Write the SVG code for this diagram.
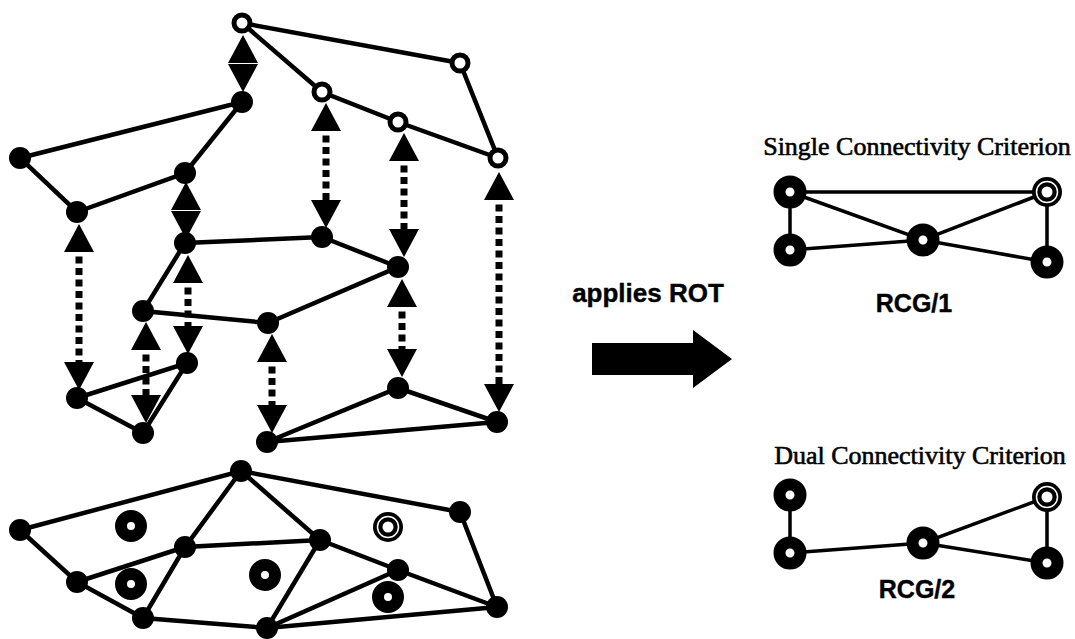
<svg xmlns="http://www.w3.org/2000/svg" width="1075" height="639" viewBox="0 0 1075 639">
<defs>
<style>
.e{stroke:#000;stroke-width:4.5;fill:none;stroke-linecap:round}
.e2{stroke:#000;stroke-width:3.5;fill:none}
.da{stroke:#000;stroke-width:7;stroke-dasharray:7 4.5;stroke-dashoffset:7;fill:none;marker-start:url(#tri);marker-end:url(#tri)}
.dot{fill:#000}
.ring{fill:#fff;stroke:#000;stroke-width:5}
.big{fill:#fff;stroke:#000;stroke-width:12}
.serif{font-family:"Liberation Serif","Times New Roman",serif;font-size:26px;fill:#000;stroke:#000;stroke-width:0.6}
.sans{font-family:"Liberation Sans",Arial,sans-serif;font-weight:bold;fill:#000;stroke:#000;stroke-width:0.4}
</style>
<marker id="tri" markerUnits="userSpaceOnUse" markerWidth="30" markerHeight="30" refX="0" refY="15" orient="auto-start-reverse" overflow="visible">
<path d="M0,0 L28,15 L0,30 Z" fill="#000"/>
</marker>
<g id="dring">
<circle r="15" fill="#000"/>
<circle r="10.5" fill="none" stroke="#fff" stroke-width="1.5"/>
<circle r="5.5" fill="#fff"/>
</g>
</defs>
<rect width="1075" height="639" fill="#fff"/>

<g id="connectors">
<path class="e" d="M242,23 L460,63 M242,23 L322,92 L398,122 L498,158 L460,63"/>
<path class="e" d="M242,102 L20,158 L77,212 L185,173 L242,102"/>
<path class="e" d="M322,237 L185,243 L143,311 L268,323 L398,267 L322,237"/>
<path class="e" d="M77,398 L187,363 L143,433 Z"/>
<path class="e" d="M267,442 L398,388 L497,422 Z"/>
<line class="da" x1="243" y1="63" x2="243" y2="64"/>
<line class="da" x1="79" y1="252" x2="79" y2="362"/>
<line class="da" x1="186" y1="210" x2="186" y2="211"/>
<line class="da" x1="188" y1="283" x2="188" y2="326"/>
<line class="da" x1="146" y1="350" x2="146" y2="395"/>
<line class="da" x1="326" y1="131" x2="326" y2="200"/>
<line class="da" x1="404" y1="161" x2="404" y2="229"/>
<line class="da" x1="499" y1="200" x2="499" y2="384"/>
<line class="da" x1="402" y1="307" x2="402" y2="349"/>
<line class="da" x1="272" y1="362" x2="272" y2="405"/>
<path class="e" d="M20,530 L241,471 L460,512 L497,607 L267,628 L143,618 L77,582 L20,530"/>
<path class="e" d="M77,582 L185,547 L241,471 L320,540 L185,547 L143,618"/>
<path class="e" d="M320,540 L398,570 L497,607 M320,540 L267,628 L398,570"/>
<path class="e2" d="M790,192 L1047,192 M790,192 L923,240 L1047,192 M790,250 L923,240 L1047,262"/>
<path class="e2" d="M790,192 L790,250 M1047,192 L1047,262" stroke-width="2.5"/>
<path class="e2" d="M790,553 L923,543 L1047,497 M923,543 L1047,563"/>
<path class="e2" d="M790,495 L790,553 M1047,497 L1047,563" stroke-width="2.5"/>
<path d="M592,343 L693,343 L693,330 L732,359 L693,388 L693,375 L592,375 Z" fill="#000"/>
</g>

<g id="top-layer">
<circle id="n-a" class="ring" cx="242" cy="23" r="8"/>
<circle id="n-b" class="ring" cx="460" cy="63" r="8"/>
<circle id="n-c" class="ring" cx="322" cy="92" r="8"/>
<circle id="n-d" class="ring" cx="398" cy="122" r="8"/>
<circle id="n-e" class="ring" cx="498" cy="158" r="8"/>
</g>
<g id="middle-layer">
<circle id="n-f" class="dot" cx="242" cy="102" r="11"/>
<circle id="n-g" class="dot" cx="20" cy="158" r="11"/>
<circle id="n-h" class="dot" cx="185" cy="173" r="11"/>
<circle id="n-i" class="dot" cx="77" cy="212" r="11"/>
<circle id="n-j" class="dot" cx="185" cy="243" r="11"/>
<circle id="n-k" class="dot" cx="322" cy="237" r="11"/>
<circle id="n-l" class="dot" cx="398" cy="267" r="11"/>
<circle id="n-m" class="dot" cx="143" cy="311" r="11"/>
<circle id="n-n" class="dot" cx="268" cy="323" r="11"/>
</g>
<g id="bottom-layer">
<circle id="n-o" class="dot" cx="77" cy="398" r="11"/>
<circle id="n-p" class="dot" cx="187" cy="363" r="11"/>
<circle id="n-q" class="dot" cx="143" cy="433" r="11"/>
<circle id="n-r" class="dot" cx="267" cy="442" r="11"/>
<circle id="n-s" class="dot" cx="398" cy="388" r="11"/>
<circle id="n-t" class="dot" cx="497" cy="422" r="11"/>
</g>
<g id="lower-graph">
<circle id="n-u" class="dot" cx="20" cy="530" r="11"/>
<circle id="n-v" class="dot" cx="241" cy="471" r="11"/>
<circle id="n-w" class="dot" cx="185" cy="547" r="11"/>
<circle id="n-x" class="dot" cx="77" cy="582" r="11"/>
<circle id="n-y" class="dot" cx="143" cy="618" r="11"/>
<circle id="n-z" class="dot" cx="460" cy="512" r="11"/>
<circle id="n-aa" class="dot" cx="320" cy="540" r="11"/>
<circle id="n-ab" class="dot" cx="398" cy="570" r="11"/>
<circle id="n-ac" class="dot" cx="497" cy="607" r="11"/>
<circle id="n-ad" class="dot" cx="267" cy="628" r="11"/>
<circle id="r-1" class="big" cx="131" cy="526" r="10"/>
<circle id="r-2" class="big" cx="131" cy="584" r="10"/>
<circle id="r-3" class="big" cx="265" cy="575" r="10"/>
<circle id="r-4" class="big" cx="388" cy="597" r="10"/>
<use id="r-5" href="#dring" x="388" y="527"/>
</g>

<g id="label-rot">
<text class="sans" x="648" y="302" font-size="26" text-anchor="middle">applies ROT</text>
</g>

<g id="rcg1">
<text class="serif" x="917" y="155" text-anchor="middle">Single Connectivity Criterion</text>
<circle class="big" cx="790" cy="192" r="10.5"/>
<circle class="big" cx="790" cy="250" r="10.5"/>
<circle class="big" cx="923" cy="240" r="10.5"/>
<circle class="big" cx="1047" cy="262" r="10.5"/>
<use href="#dring" x="1047" y="192"/>
<text class="sans" x="914" y="312" font-size="25" text-anchor="middle">RCG/1</text>
</g>

<g id="rcg2">
<text class="serif" x="920" y="464" text-anchor="middle">Dual Connectivity Criterion</text>
<circle class="big" cx="790" cy="495" r="10.5"/>
<circle class="big" cx="790" cy="553" r="10.5"/>
<circle class="big" cx="923" cy="543" r="10.5"/>
<circle class="big" cx="1047" cy="563" r="10.5"/>
<use href="#dring" x="1047" y="497"/>
<text class="sans" x="917" y="598" font-size="25" text-anchor="middle">RCG/2</text>
</g>
</svg>
